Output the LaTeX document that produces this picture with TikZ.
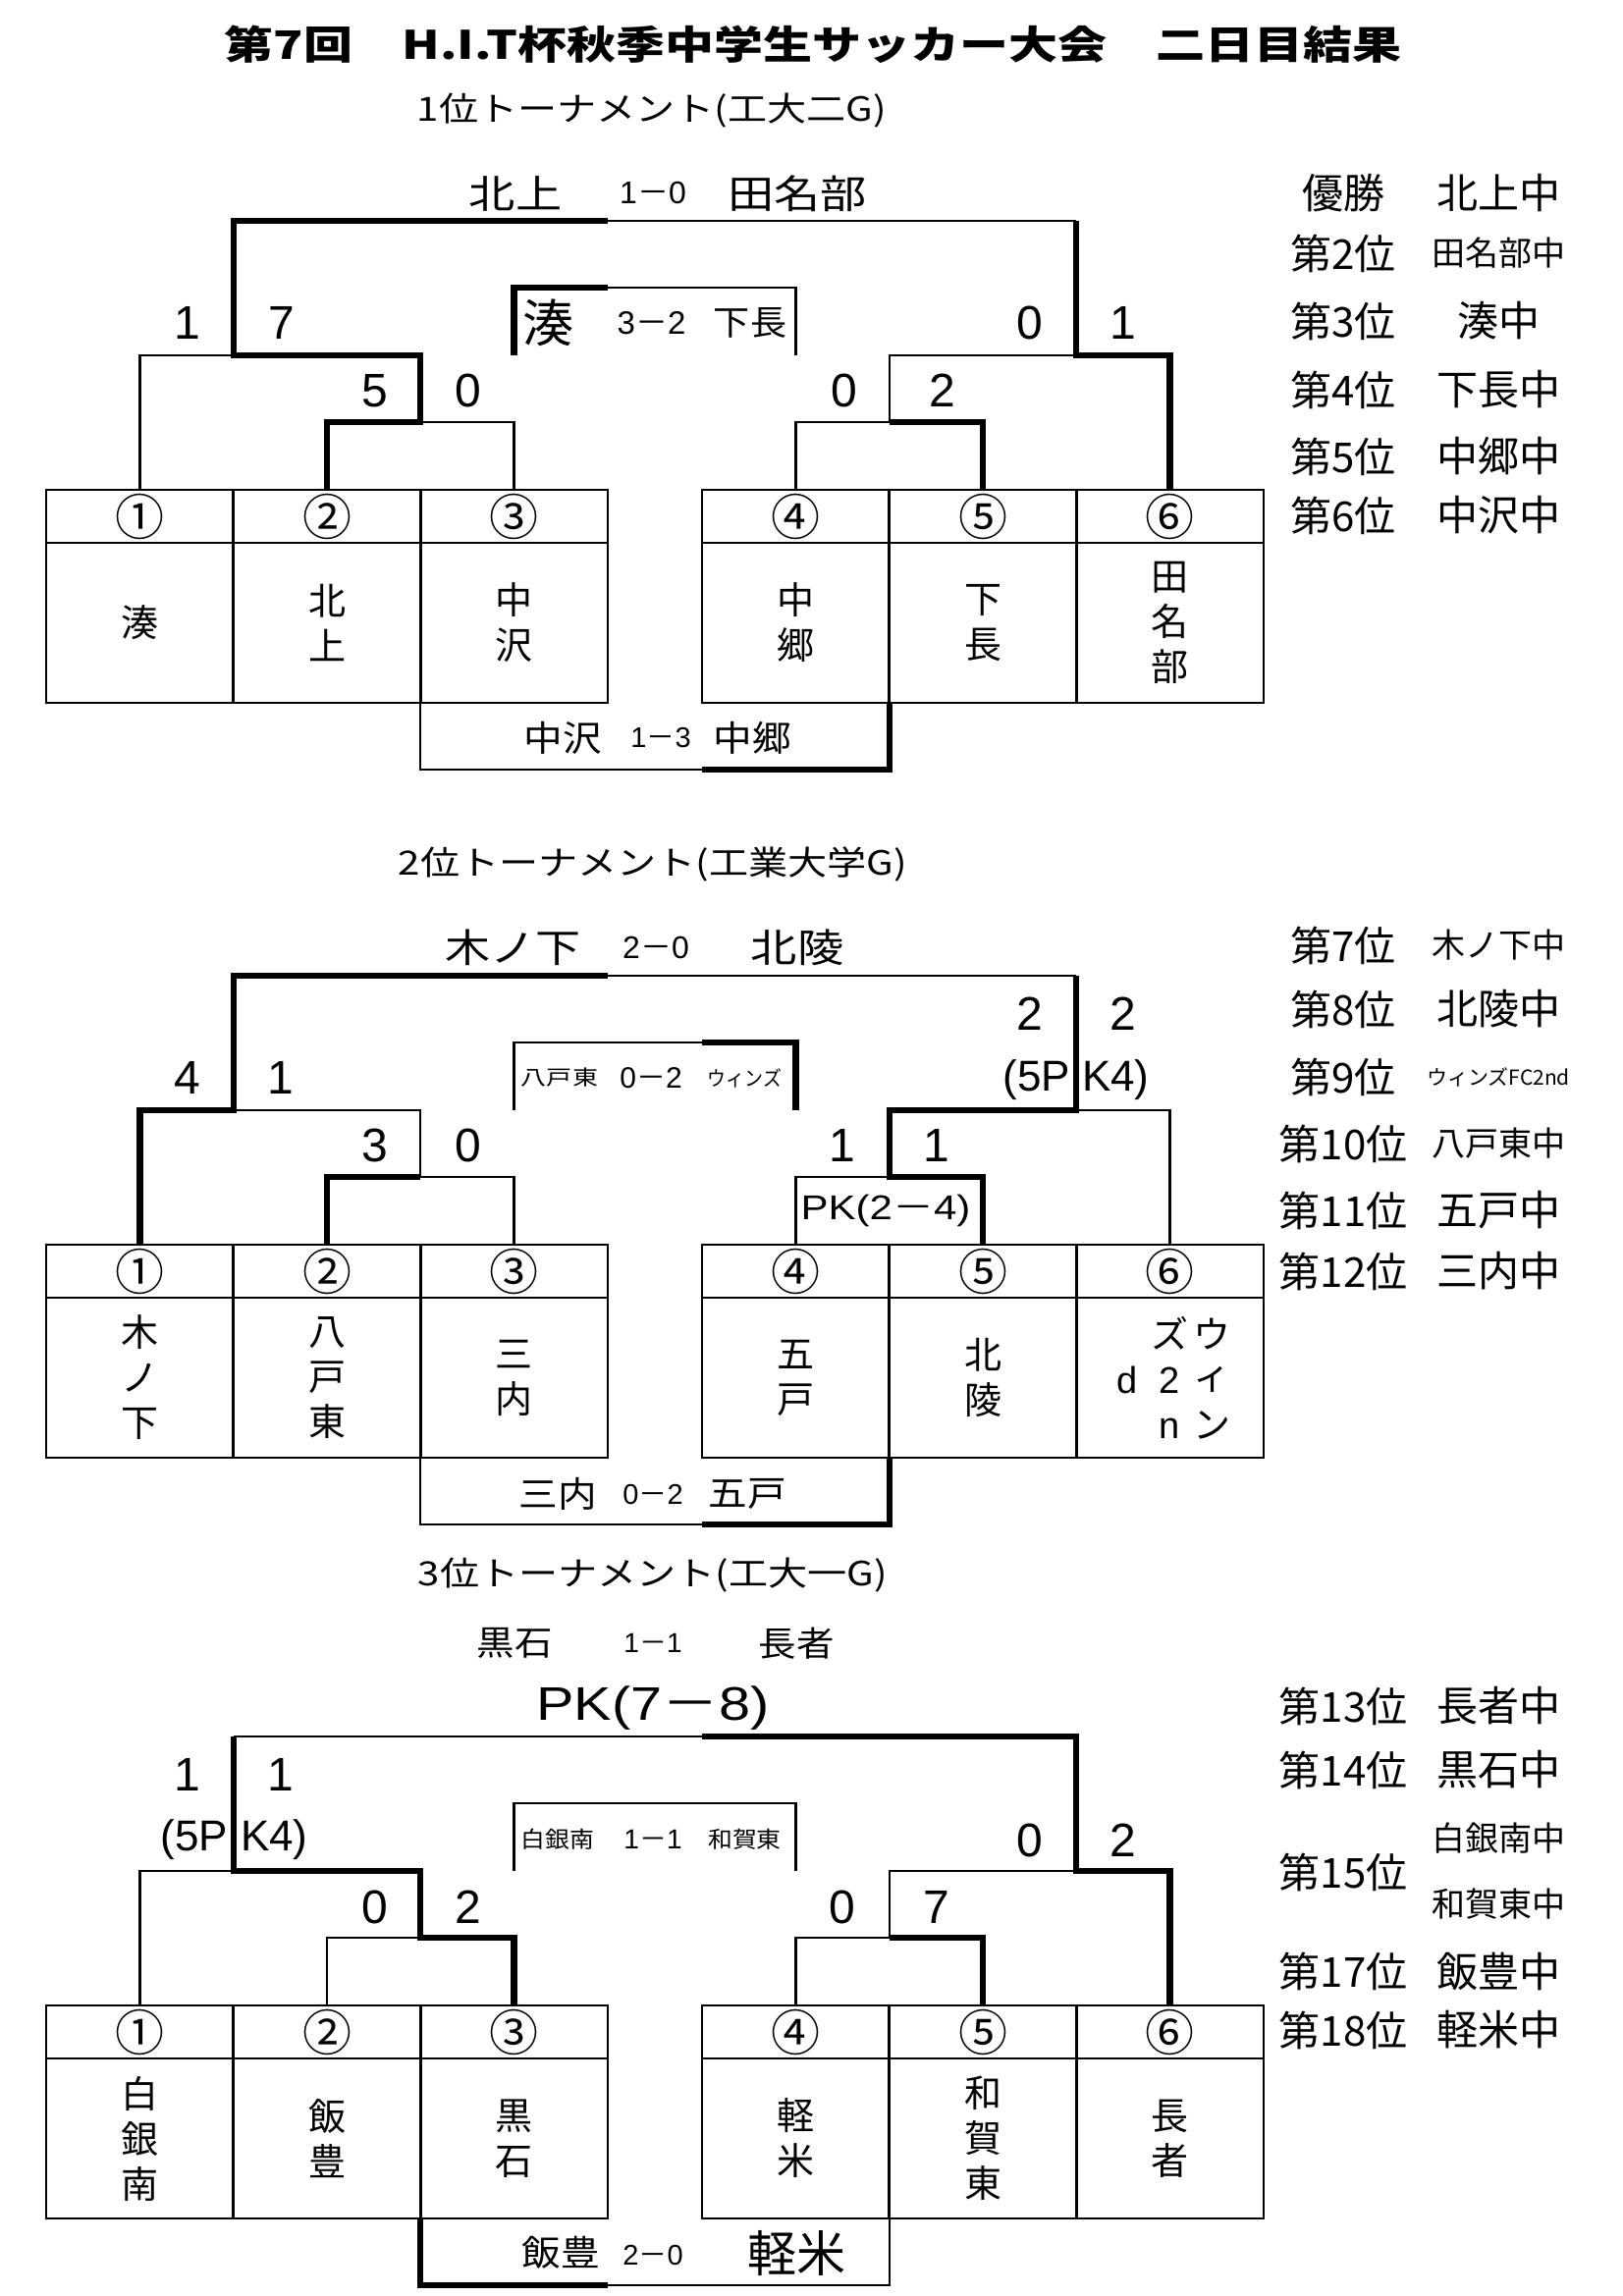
\documentclass[tikz,border=0pt]{standalone}
\usepackage{fontspec}
\usepackage{graphicx}
\setmainfont{Noto Sans CJK JP}
\newfontfamily\lat{Liberation Sans}
\newcommand\fs[1]{\fontsize{#1}{#1}\selectfont}
\newcommand\sx[2]{\scalebox{#1}[1]{#2}}
\newcommand\mn{{\rmfamily －}}
\tikzset{
 tx/.style={inner sep=0pt, outer sep=0pt, anchor=center},
 thn/.style={line width=2.4pt, line cap=butt, line join=miter},
 thk/.style={line width=6.5pt, line cap=butt, line join=miter},
 hcell/.style={draw, line width=2.8pt, minimum width=191pt, minimum height=54pt, inner sep=0pt, outer sep=0pt, font=\fs{50}},
 bcell/.style={draw, line width=2.8pt, minimum width=191pt, minimum height=163pt, inner sep=0pt, outer sep=0pt, align=center, font=\fontsize{38}{46}\selectfont},
 sc/.style={tx, font=\lat\fs{48}},
 rk/.style={tx, font=\fs{42}},
 rks/.style={tx, font=\fs{34}},
}
\newcommand\secframe[7]{%
 \node[hcell] (#1h1) at (142.5,27) {①};
 \node[hcell] (#1h2) at (333,27) {②};
 \node[hcell] (#1h3) at (523.5,27) {③};
 \node[hcell] (#1h4) at (810.5,27) {④};
 \node[hcell] (#1h5) at (1001,27) {⑤};
 \node[hcell] (#1h6) at (1191.5,27) {⑥};
 \node[bcell] (#1b1) at (142.5,135.5) {#2};
 \node[bcell] (#1b2) at (333,135.5) {#3};
 \node[bcell] (#1b3) at (523.5,135.5) {#4};
 \node[bcell] (#1b4) at (810.5,135.5) {#5};
 \node[bcell] (#1b5) at (1001,135.5) {#6};
 \node[bcell] (#1b6) at (1191.5,135.5) {#7};
 \coordinate (#1Lq) at (428,-69);
 \coordinate (#1Ls) at (428,-137);
 \coordinate (#1Lf) at (238,-137);
 \coordinate (#1TL) at (238,-274);
 \coordinate (#1TM) at (619,-274);
 \coordinate (#1TN) at (715,-274);
 \coordinate (#1TR) at (1096,-274);
 \coordinate (#1Rf) at (1096,-137);
 \coordinate (#1Rs) at (906,-137);
 \coordinate (#1Rq) at (906,-69);
 \coordinate (#1IL) at (523.5,-137);
 \coordinate (#1IA) at (523.5,-206);
 \coordinate (#1IM) at (619,-206);
 \coordinate (#1IN) at (715,-206);
 \coordinate (#1IB) at (810.5,-206);
 \coordinate (#1IR) at (810.5,-137);
 \coordinate (#1BL) at (428,285);
 \coordinate (#1BM) at (619,285);
 \coordinate (#1BN) at (715,285);
 \coordinate (#1BR) at (906,285);
}
\begin{document}
\begin{tikzpicture}[x=1pt,y=-1pt]
\fill[white] (0,0) rectangle (1653,2339);
\useasboundingbox (0,0) rectangle (1653,2339);

\node[tx,font=\fs{40}\bfseries] (title) at (828,45) {\sx{1.25}{第7回　H.I.T杯秋季中学生サッカー大会　二日目結果}};
\node[tx,font=\fs{34}] (sub1) at (664,113) {\sx{1.18}{1位トーナメント(工大二G)}};
\node[tx,font=\fs{34}] (sub2) at (665,880) {\sx{1.18}{2位トーナメント(工業大学G)}};
\node[tx,font=\fs{34}] (sub3) at (665,1605) {\sx{1.18}{3位トーナメント(工大一G)}};

% ---------------- Section 1 ----------------
\begin{scope}[shift={(0,499)}]
\secframe{a}{湊}{北\\上}{中\\沢}{中\\郷}{下\\長}{田\\名\\部}
\draw[thn] (ah1.north) |- (aLf);
\draw[thn] (ah3.north) |- (aLq);
\draw[thn] (ah4.north) |- (aRq) -- (aRs) -- (aRf);
\draw[thn] (aTM) -- (aTR);
\draw[thn] (aIM) -- (aIB) -- (aIR);
\draw[thn] (ab3.south west) -- (aBL) -- (aBN);
\draw[thk] (ah2.north) |- (aLq) -- (aLs) -- (aLf) -- (aTL) -- (aTM);
\draw[thk] (ah5.north) |- (aRq);
\draw[thk] (ah6.north) |- (aRf) -- (aTR);
\draw[thk] (aIL) -- (aIA) -- (aIM);
\draw[thk] (aBN) -- (aBR) -- (ab4.south east);
\node[tx,font=\fs{40}] (a-w) at (525,-302) {\sx{1.18}{北上}};
\node[tx,font=\lat\fs{32}] (a-ws) at (665,-303) {1\mn0};
\node[tx,font=\fs{40}] (a-l) at (812,-302) {\sx{1.18}{田名部}};
\node[tx,font=\fs{52}] (a-i1) at (558.5,-170) {湊};
\node[tx,font=\lat\fs{33}] (a-is) at (663.5,-170) {3\mn2};
\node[tx,font=\fs{35}] (a-i2) at (764,-170) {\sx{1.06}{下長}};
\node[sc] (a-s1) at (191,-170) {1};
\node[sc] (a-s2) at (287,-170) {7};
\node[sc] (a-s3) at (382,-101) {5};
\node[sc] (a-s4) at (477,-101) {0};
\node[sc] (a-s5) at (860,-101) {0};
\node[sc] (a-s6) at (960,-101) {2};
\node[sc] (a-s7) at (1049,-170) {0};
\node[sc] (a-s8) at (1144,-170) {1};
\node[tx,font=\fs{36}] (a-b1) at (573,253) {\sx{1.1}{中沢}};
\node[tx,font=\lat\fs{29}] (a-bs) at (673,253) {1\mn3};
\node[tx,font=\fs{36}] (a-b2) at (766.5,253) {\sx{1.1}{中郷}};
\node[rk] (a-r1) at (1368,-302) {優勝};
\node[rk] (a-n1) at (1526,-302) {北上中};
\node[rk] (a-r2) at (1368,-241) {第2位};
\node[rks] (a-n2) at (1526,-241) {田名部中};
\node[rk] (a-r3) at (1368,-172) {第3位};
\node[rk] (a-n3) at (1526,-172) {湊中};
\node[rk] (a-r4) at (1368,-102) {第4位};
\node[rk] (a-n4) at (1526,-102) {下長中};
\node[rk] (a-r5) at (1368,-34) {第5位};
\node[rk] (a-n5) at (1526,-34) {中郷中};
\node[rk] (a-r6) at (1368,26) {第6位};
\node[rk] (a-n6) at (1526,26) {中沢中};
\end{scope}

% ---------------- Section 2 ----------------
\begin{scope}[shift={(0,1268)}]
\secframe{b}{木\\ノ\\下}{八\\戸\\東}{三\\内}{五\\戸}{北\\陵}{\makebox[43pt]{}\makebox[43pt]{ズ}\makebox[43pt]{ウ}\\\makebox[43pt]{\lat d}\makebox[43pt]{\lat 2}\makebox[43pt]{\raisebox{4pt}{ィ}}\\\makebox[43pt]{}\makebox[43pt]{\lat n}\makebox[43pt]{ン}}
\draw[thn] (bh3.north) |- (bLq) -- (bLs) -- (bLf);
\draw[thn] (bh4.north) |- (bRq);
\draw[thn] (bh6.north) |- (bRf);
\draw[thn] (bTM) -- (bTR);
\draw[thn] (bIL) -- (bIA) -- (bIN);
\draw[thn] (bb3.south west) -- (bBL) -- (bBN);
\draw[thk] (bh1.north) |- (bLf) -- (bTL) -- (bTM);
\draw[thk] (bh2.north) |- (bLq);
\draw[thk] (bh5.north) |- (bRq) -- (bRs) -- (bRf) -- (bTR);
\draw[thk] (bIN) -- (bIB) -- (bIR);
\draw[thk] (bBN) -- (bBR) -- (bb4.south east);
\node[tx,font=\fs{40}] (b-w) at (522,-303) {\sx{1.15}{木ノ下}};
\node[tx,font=\lat\fs{32}] (b-ws) at (668,-303) {2\mn0};
\node[tx,font=\fs{40}] (b-l) at (812,-303) {\sx{1.18}{北陵}};
\node[tx,font=\fs{21}] (b-i1) at (570,-170) {\sx{1.24}{八戸東}};
\node[tx,font=\lat\fs{30}] (b-is) at (663,-170) {0\mn2};
\node[tx,font=\fs{21}] (b-i2) at (758.5,-170) {\sx{0.9}{ウィンズ}};
\node[sc] (b-s1) at (191,-170) {4};
\node[sc] (b-s2) at (286,-170) {1};
\node[sc] (b-s3) at (382,-101) {3};
\node[sc] (b-s4) at (477,-101) {0};
\node[sc] (b-s5) at (858,-101) {1};
\node[sc] (b-s6) at (953.5,-101) {1};
\node[sc] (b-s7) at (1049,-235) {2};
\node[sc] (b-s8) at (1144,-235) {2};
\node[tx,font=\lat\fs{44},anchor=east] (b-p1) at (1090,-168) {(5P};
\node[tx,font=\lat\fs{44},anchor=west] (b-p2) at (1102,-168) {K4)};
\node[tx,font=\lat\fs{35}] (b-pk) at (902,-35) {\sx{1.2}{PK(2\mn4)}};
\node[tx,font=\fs{36}] (b-b1) at (568,254) {\sx{1.1}{三内}};
\node[tx,font=\lat\fs{29}] (b-bs) at (665,254) {0\mn2};
\node[tx,font=\fs{36}] (b-b2) at (761,254) {\sx{1.1}{五戸}};
\node[rk] (b-r1) at (1368,-305) {第7位};
\node[rks] (b-n1) at (1526,-305) {木ノ下中};
\node[rk] (b-r2) at (1368,-240) {第8位};
\node[rk] (b-n2) at (1526,-240) {北陵中};
\node[rk] (b-r3) at (1368,-171) {第9位};
\node[tx,font=\fs{21}] (b-n3) at (1526,-171) {ウィンズFC2nd};
\node[rk] (b-r4) at (1368,-103) {第10位};
\node[rks] (b-n4) at (1526,-103) {八戸東中};
\node[rk] (b-r5) at (1368,-35) {第11位};
\node[rk] (b-n5) at (1526,-35) {五戸中};
\node[rk] (b-r6) at (1368,27) {第12位};
\node[rk] (b-n6) at (1526,27) {三内中};
\end{scope}

% ---------------- Section 3 ----------------
\begin{scope}[shift={(0,2043)}]
\secframe{c}{白\\銀\\南}{飯\\豊}{黒\\石}{軽\\米}{和\\賀\\東}{長\\者}
\draw[thn] (ch1.north) |- (cLf);
\draw[thn] (ch2.north) |- (cLq);
\draw[thn] (cTL) -- (cTN);
\draw[thn] (ch4.north) |- (cRq) -- (cRs) -- (cRf);
\draw[thn] (cIL) -- (cIA) -- (cIB) -- (cIR);
\draw[thn] (cBM) -- (cBR) -- (cb4.south east);
\draw[thk] (ch3.north) |- (cLq) -- (cLs) -- (cLf) -- (cTL);
\draw[thk] (ch5.north) |- (cRq);
\draw[thk] (ch6.north) |- (cRf) -- (cTR) -- (cTN);
\draw[thk] (cb3.south west) -- (cBL) -- (cBM);
\node[tx,font=\fs{35}] (c-w) at (524,-369) {\sx{1.1}{黒石}};
\node[tx,font=\lat\fs{28}] (c-ws) at (665,-369) {1\mn1};
\node[tx,font=\fs{35}] (c-l) at (811,-369) {\sx{1.1}{長者}};
\node[tx,font=\lat\fs{48}] (c-pk) at (665,-303) {\sx{1.2}{PK(7\mn8)}};
\node[tx,font=\fs{23}] (c-i1) at (568,-169) {\sx{1.08}{白銀南}};
\node[tx,font=\lat\fs{28}] (c-is) at (665,-169) {1\mn1};
\node[tx,font=\fs{23}] (c-i2) at (758.5,-169) {\sx{1.08}{和賀東}};
\node[sc] (c-s1) at (191,-235) {1};
\node[sc] (c-s2) at (286,-235) {1};
\node[tx,font=\lat\fs{44},anchor=east] (c-p1) at (232,-168.5) {(5P};
\node[tx,font=\lat\fs{44},anchor=west] (c-p2) at (245,-168.5) {K4)};
\node[sc] (c-s3) at (382,-100) {0};
\node[sc] (c-s4) at (477,-100) {2};
\node[sc] (c-s5) at (858,-100) {0};
\node[sc] (c-s6) at (953.5,-100) {7};
\node[sc] (c-s7) at (1049,-168.5) {0};
\node[sc] (c-s8) at (1144,-168.5) {2};
\node[tx,font=\fs{36}] (c-b1) at (571,252) {\sx{1.1}{飯豊}};
\node[tx,font=\lat\fs{29}] (c-bs) at (665,254) {2\mn0};
\node[tx,font=\fs{50}] (c-b2) at (811,252) {軽米};
\node[rk] (c-r1) at (1368,-305) {第13位};
\node[rk] (c-n1) at (1526,-305) {長者中};
\node[rk] (c-r2) at (1368,-240) {第14位};
\node[rk] (c-n2) at (1526,-240) {黒石中};
\node[rk] (c-r3) at (1368,-136) {第15位};
\node[rks] (c-n3) at (1526,-170) {白銀南中};
\node[rks] (c-n4) at (1526,-103) {和賀東中};
\node[rk] (c-r5) at (1368,-35) {第17位};
\node[rk] (c-n5) at (1526,-35) {飯豊中};
\node[rk] (c-r6) at (1368,25) {第18位};
\node[rk] (c-n6) at (1526,25) {軽米中};
\end{scope}
\end{tikzpicture}
\end{document}
